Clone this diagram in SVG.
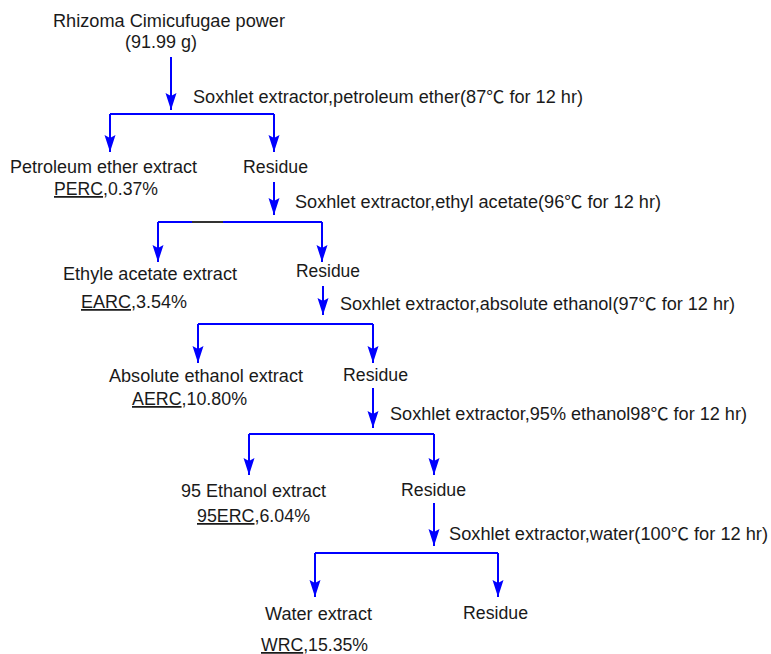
<svg xmlns="http://www.w3.org/2000/svg" width="771" height="654" viewBox="0 0 771 654">
<defs>
<marker id="ah" markerUnits="userSpaceOnUse" markerWidth="18" markerHeight="12" refX="17" refY="5.5" orient="auto">
<path d="M0,0 L17,5.5 L0,11 L3,5.5 z" fill="#0000ff"/>
</marker>
<style>
text{font-family:"Liberation Sans",Arial,"Noto Sans CJK SC",sans-serif;font-size:17.5px;fill:#1a1a1a}
.c{fill:none;stroke:#0000ff;stroke-width:2}
.a{marker-end:url(#ah)}
.u{text-decoration:underline}
.deg{font-family:"Noto Sans CJK SC",sans-serif}
</style>
</defs>
<rect width="771" height="654" fill="#fff"/>
<g id="connectors">
<path class="c a" d="M171,57 V110"/>
<path class="c" d="M110,114 H274"/>
<path class="c a" d="M110,114 V152"/>
<path class="c a" d="M274,114 V152"/>
<path class="c a" d="M274,182 V215"/>
<path class="c" d="M158,222 H322"/>
<path d="M192,222 H223" stroke="#333" stroke-width="2"/>
<path class="c a" d="M158,222 V262"/>
<path class="c a" d="M322,222 V262"/>
<path class="c a" d="M323,286 V315"/>
<path class="c" d="M198,324 H373"/>
<path class="c a" d="M198,324 V363"/>
<path class="c a" d="M373,324 V363"/>
<path class="c a" d="M373,388 V428"/>
<path class="c" d="M249,434 H434"/>
<path class="c a" d="M249,434 V475"/>
<path class="c a" d="M434,434 V475"/>
<path class="c a" d="M434,503 V546"/>
<path class="c" d="M315,553 H498"/>
<path class="c a" d="M315,553 V597"/>
<path class="c a" d="M498,553 V597"/>
</g>
<g id="labels">
<text x="193" y="103" textLength="390" lengthAdjust="spacingAndGlyphs">Soxhlet extractor,petroleum ether(87<tspan class="deg">℃</tspan> for 12 hr)</text>
<text x="295" y="208" textLength="366" lengthAdjust="spacingAndGlyphs">Soxhlet extractor,ethyl acetate(96<tspan class="deg">℃</tspan> for 12 hr)</text>
<text x="340" y="310" textLength="395" lengthAdjust="spacingAndGlyphs">Soxhlet extractor,absolute ethanol(97<tspan class="deg">℃</tspan> for 12 hr)</text>
<text x="390" y="420" textLength="357" lengthAdjust="spacingAndGlyphs">Soxhlet extractor,95% ethanol98<tspan class="deg">℃</tspan> for 12 hr)</text>
<text x="449" y="540" textLength="319" lengthAdjust="spacingAndGlyphs">Soxhlet extractor,water(100<tspan class="deg">℃</tspan> for 12 hr)</text>
</g>
<g id="start">
<text x="53" y="27" textLength="232" lengthAdjust="spacingAndGlyphs">Rhizoma Cimicufugae power</text>
<text x="125" y="48" textLength="72" lengthAdjust="spacingAndGlyphs">(91.99 g)</text>
</g>
<g id="perc">
<text x="10" y="173" textLength="187" lengthAdjust="spacingAndGlyphs">Petroleum ether extract</text>
<text x="54" y="195" textLength="104" lengthAdjust="spacingAndGlyphs"><tspan class="u">PERC</tspan>,0.37%</text>
</g>
<g id="residue1"><text x="243" y="173" textLength="65" lengthAdjust="spacingAndGlyphs">Residue</text></g>
<g id="earc">
<text x="63" y="280" textLength="174" lengthAdjust="spacingAndGlyphs">Ethyle acetate extract</text>
<text x="81" y="308" textLength="106" lengthAdjust="spacingAndGlyphs"><tspan class="u">EARC</tspan>,3.54%</text>
</g>
<g id="residue2"><text x="296" y="277" textLength="64" lengthAdjust="spacingAndGlyphs">Residue</text></g>
<g id="aerc">
<text x="109" y="382" textLength="194" lengthAdjust="spacingAndGlyphs">Absolute ethanol extract</text>
<text x="132" y="405" textLength="115" lengthAdjust="spacingAndGlyphs"><tspan class="u">AERC</tspan>,10.80%</text>
</g>
<g id="residue3"><text x="343" y="381" textLength="65" lengthAdjust="spacingAndGlyphs">Residue</text></g>
<g id="erc95">
<text x="181" y="497" textLength="145" lengthAdjust="spacingAndGlyphs">95 Ethanol extract</text>
<text x="197" y="522" textLength="113" lengthAdjust="spacingAndGlyphs"><tspan class="u">95ERC</tspan>,6.04%</text>
</g>
<g id="residue4"><text x="401" y="496" textLength="65" lengthAdjust="spacingAndGlyphs">Residue</text></g>
<g id="wrc">
<text x="265" y="620" textLength="107" lengthAdjust="spacingAndGlyphs">Water extract</text>
<text x="261" y="651" textLength="107" lengthAdjust="spacingAndGlyphs"><tspan class="u">WRC</tspan>,15.35%</text>
</g>
<g id="residue5"><text x="463" y="619" textLength="65" lengthAdjust="spacingAndGlyphs">Residue</text></g>
</svg>
